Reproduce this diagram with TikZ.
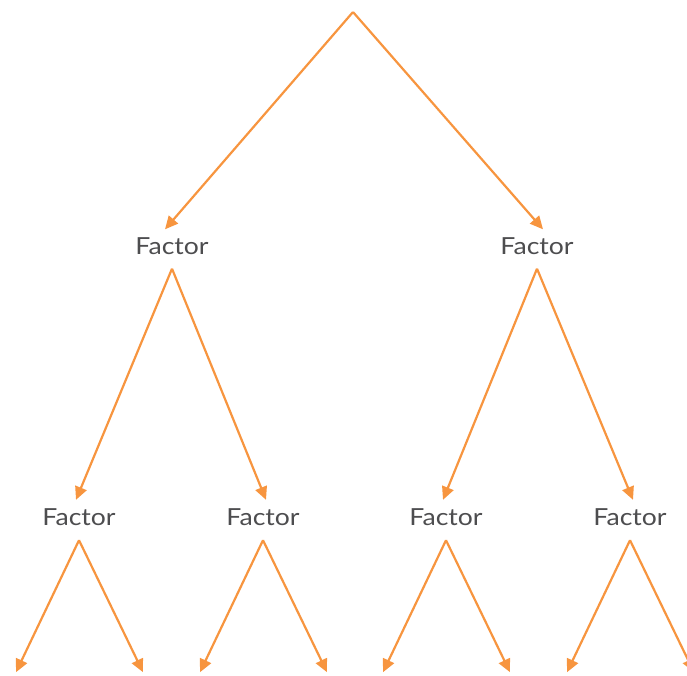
\documentclass[tikz,border=0pt]{standalone}
\usepackage{fontspec}
\setmainfont{Lato}[FakeStretch=1.13]
\usetikzlibrary{arrows.meta}
\definecolor{treeorange}{HTML}{F7953F}
\definecolor{textgrey}{HTML}{4D4D4F}

\begin{document}
\begin{tikzpicture}[x=1pt,y=-1pt,
    factor/.style={inner sep=0pt,text height=17pt,text depth=0pt,text=textgrey,
        font=\fontsize{23.5}{28}\selectfont},
    branch/.style={-{Triangle[length=13pt,width=12pt]},line width=2.2pt,treeorange}]
            \useasboundingbox (0,0) rectangle (687,675);
            \coordinate (top) at (353,12);
            % first level
            \node[factor] (f1) at (172,246) {Factor};
            \node[factor] (f2) at (537,246) {Factor};
            % second level
            \node[factor] (f11) at (79,516.5) {Factor};
            \node[factor] (f12) at (263,516.5) {Factor};
            \node[factor] (f21) at (446,516.5) {Factor};
            \node[factor] (f22) at (630,516.5) {Factor};
            \draw[branch] (top)--([xshift=-7pt,yshift=8pt]f1.north);
            \draw[branch] (top)--([xshift=6pt,yshift=8pt]f2.north);
            \draw[branch] ([yshift=-14pt]f1.south)--([xshift=-3pt,yshift=8pt]f11.north);
            \draw[branch] ([yshift=-14pt]f1.south)--([xshift=3pt,yshift=8pt]f12.north);
            \draw[branch] ([yshift=-14pt]f2.south)--([xshift=-3pt,yshift=8pt]f21.north);
            \draw[branch] ([yshift=-14pt]f2.south)--([xshift=3pt,yshift=8pt]f22.north);
            % free ends at the bottom
            \foreach \n in {f11,f12,f21,f22} {
                \coordinate (\n-l) at ([xshift=-63pt,yshift=-147pt]\n.south);
                \coordinate (\n-r) at ([xshift=64pt,yshift=-147pt]\n.south);
                \draw[branch] ([yshift=-15pt]\n.south)--(\n-l);
                \draw[branch] ([yshift=-15pt]\n.south)--(\n-r);
            }
        \end{tikzpicture}
\end{document}
